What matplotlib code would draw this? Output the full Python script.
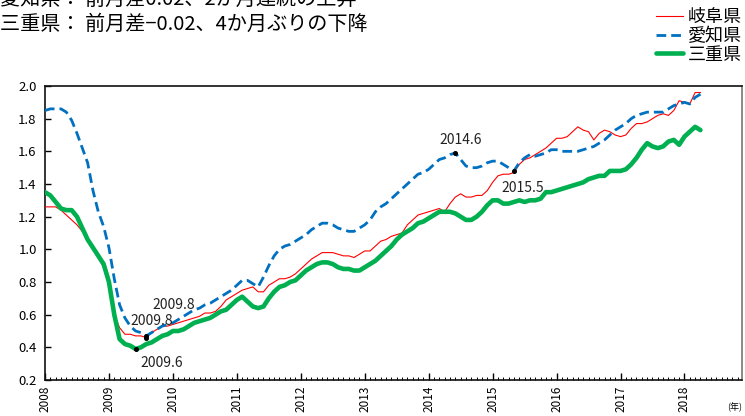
import matplotlib
matplotlib.use("Agg")
import matplotlib.pyplot as plt
from matplotlib.ticker import MultipleLocator, FixedLocator

plt.rcParams['font.family'] = ['Noto Sans CJK JP', 'DejaVu Sans']

# Monthly series, Jan 2008 .. Apr 2018
gifu = [
    1.26, 1.26, 1.26, 1.24, 1.21, 1.18, 1.15, 1.11, 1.06, 1.01, 0.95, 0.89,
    0.78, 0.60, 0.52, 0.48, 0.48, 0.47, 0.47, 0.46, 0.49, 0.51, 0.53, 0.53,
    0.54, 0.55, 0.56, 0.57, 0.58, 0.59, 0.61, 0.61, 0.62, 0.65, 0.69, 0.71,
    0.73, 0.75, 0.76, 0.77, 0.74, 0.74, 0.78, 0.80, 0.82, 0.82, 0.83, 0.85,
    0.88, 0.91, 0.94, 0.96, 0.98, 0.98, 0.98, 0.97, 0.96, 0.96, 0.95, 0.97,
    0.99, 0.99, 1.02, 1.05, 1.06, 1.08, 1.09, 1.10, 1.15, 1.18, 1.21, 1.22,
    1.23, 1.24, 1.25, 1.23, 1.28, 1.32, 1.34, 1.32, 1.32, 1.33, 1.33, 1.36,
    1.41, 1.45, 1.46, 1.46, 1.47, 1.52, 1.55, 1.56, 1.58, 1.60, 1.62, 1.65,
    1.68, 1.68, 1.69, 1.72, 1.75, 1.73, 1.72, 1.67, 1.71, 1.73, 1.72, 1.70,
    1.69, 1.70, 1.74, 1.77, 1.77, 1.78, 1.80, 1.82, 1.83, 1.82, 1.85, 1.91,
    1.90, 1.89, 1.96, 1.96,
]
aichi = [
    1.85, 1.86, 1.86, 1.86, 1.84, 1.79, 1.71, 1.62, 1.53, 1.36, 1.23, 1.14,
    1.01, 0.82, 0.66, 0.58, 0.53, 0.50, 0.49, 0.47, 0.49, 0.51, 0.53, 0.54,
    0.55, 0.57, 0.59, 0.61, 0.63, 0.64, 0.66, 0.67, 0.69, 0.71, 0.73, 0.75,
    0.78, 0.81, 0.81, 0.79, 0.77, 0.83, 0.90, 0.96, 1.00, 1.02, 1.03, 1.05,
    1.07, 1.09, 1.12, 1.14, 1.16, 1.16, 1.15, 1.13, 1.12, 1.11, 1.11, 1.13,
    1.15, 1.18, 1.23, 1.26, 1.28, 1.31, 1.34, 1.37, 1.40, 1.43, 1.46, 1.47,
    1.49, 1.52, 1.55, 1.56, 1.58, 1.59, 1.55, 1.51, 1.50, 1.50, 1.51, 1.53,
    1.54, 1.54, 1.52, 1.50, 1.48, 1.53, 1.56, 1.58, 1.57, 1.58, 1.59, 1.61,
    1.61, 1.60, 1.60, 1.60, 1.60, 1.61, 1.62, 1.63, 1.65, 1.67, 1.70, 1.73,
    1.75, 1.77, 1.80, 1.82, 1.83, 1.84, 1.84, 1.84, 1.84, 1.86, 1.88, 1.89,
    1.90, 1.89, 1.93, 1.95,
]
mie = [
    1.35, 1.33, 1.29, 1.25, 1.24, 1.24, 1.20, 1.13, 1.06, 1.01, 0.96, 0.91,
    0.80, 0.60, 0.45, 0.42, 0.41, 0.39, 0.40, 0.42, 0.43, 0.45, 0.47, 0.48,
    0.50, 0.50, 0.51, 0.53, 0.55, 0.56, 0.57, 0.58, 0.60, 0.62, 0.63, 0.66,
    0.69, 0.71, 0.68, 0.65, 0.64, 0.65, 0.70, 0.74, 0.77, 0.78, 0.80, 0.81,
    0.84, 0.87, 0.89, 0.91, 0.92, 0.92, 0.91, 0.89, 0.88, 0.88, 0.87, 0.87,
    0.89, 0.91, 0.93, 0.96, 0.99, 1.02, 1.06, 1.09, 1.11, 1.13, 1.16, 1.17,
    1.19, 1.21, 1.23, 1.23, 1.23, 1.22, 1.20, 1.18, 1.18, 1.20, 1.23, 1.27,
    1.30, 1.30, 1.28, 1.28, 1.29, 1.30, 1.29, 1.30, 1.30, 1.31, 1.35, 1.35,
    1.36, 1.37, 1.38, 1.39, 1.40, 1.41, 1.43, 1.44, 1.45, 1.45, 1.48, 1.48,
    1.48, 1.49, 1.52, 1.56, 1.61, 1.65, 1.63, 1.62, 1.63, 1.66, 1.67, 1.64,
    1.69, 1.72, 1.75, 1.73,
]
series_names = ["岐阜県", "愛知県", "三重県"]
years = list(range(2008, 2019))
y_ticks = [0.2, 0.4, 0.6, 0.8, 1.0, 1.2, 1.4, 1.6, 1.8, 2.0]

# Marked turning points: (series, month index, label)
marks = [
    ("mie", 17, "2009.6"),
    ("aichi", 19, "2009.8"),
    ("gifu", 19, "2009.8"),
    ("aichi", 77, "2014.6"),
    ("aichi", 88, "2015.5"),
]
headlines = [
    "愛知県： 前月差0.02、2か月連続の上昇",
    "三重県： 前月差−0.02、4か月ぶりの下降",
]

data = {"gifu": gifu, "aichi": aichi, "mie": mie}
months = list(range(len(gifu)))

fig = plt.figure(figsize=(7.45, 4.16), dpi=100)
ax = fig.add_axes([45 / 745, 1 - 380 / 416, 697 / 745, 294 / 416])

ax.plot(months, gifu, color="#FF0000", lw=0.8, label=series_names[0], zorder=3)
ax.plot(months, aichi, color="#0070C0", lw=2.0, dashes=(3.5, 1.8),
        label=series_names[1], zorder=4)
ax.plot(months, mie, color="#00B050", lw=3.3, label=series_names[2],
        solid_capstyle="round", zorder=3)

offsets = {
    ("mie", 17): (19, -10),
    ("aichi", 19): (20, 22),
    ("gifu", 19): (4, 12),
    ("aichi", 77): (4, 9),
    ("aichi", 88): (6, -12),
}
for key, idx, text in marks:
    val = data[key][idx]
    ax.plot([idx], [val], marker="o", ms=2.6, color="black", zorder=6)
    ax.annotate(text, xy=(idx, val), xytext=offsets[(key, idx)],
                textcoords="offset points", ha="center", va="center",
                fontsize=10, color="#222222", zorder=7)

ax.set_xlim(0, 130.8)
ax.set_ylim(0.2, 2.0)
ax.yaxis.set_major_locator(FixedLocator(y_ticks))
ax.set_yticklabels([f"{v:.1f}" for v in y_ticks], fontsize=9.5)
ax.xaxis.set_major_locator(FixedLocator([12 * (y - 2008) for y in years]))
ax.set_xticklabels([str(y) for y in years], rotation=90, fontsize=8.5)
ax.xaxis.set_minor_locator(MultipleLocator(1))
ax.tick_params(axis="y", direction="in", length=4, width=1, pad=6)
ax.tick_params(axis="x", which="major", direction="in", length=5, width=1, pad=4)
ax.tick_params(axis="x", which="minor", direction="in", length=2.5, width=0.7)
for sp in ax.spines.values():
    sp.set_linewidth(1.2)
    sp.set_color("#111111")
ax.spines["right"].set_color("#777777")

fig.text(735 / 745, 1 - 407 / 416, "(年)", fontsize=6.5, ha="center", va="center")

for i, line in enumerate(headlines):
    fig.text(0.0, 1 - (-1 + 25 * i) / 416, line, fontsize=14.5,
             ha="left", va="center")

ax.legend(loc="upper right", bbox_to_anchor=(742 / 745, 1 - 8 / 416),
          bbox_transform=fig.transFigure, frameon=False, fontsize=13,
          handlelength=1.5, handletextpad=0.25, labelspacing=0.05,
          borderpad=0.0, borderaxespad=0.0)

fig.savefig("out.png", dpi=100)
